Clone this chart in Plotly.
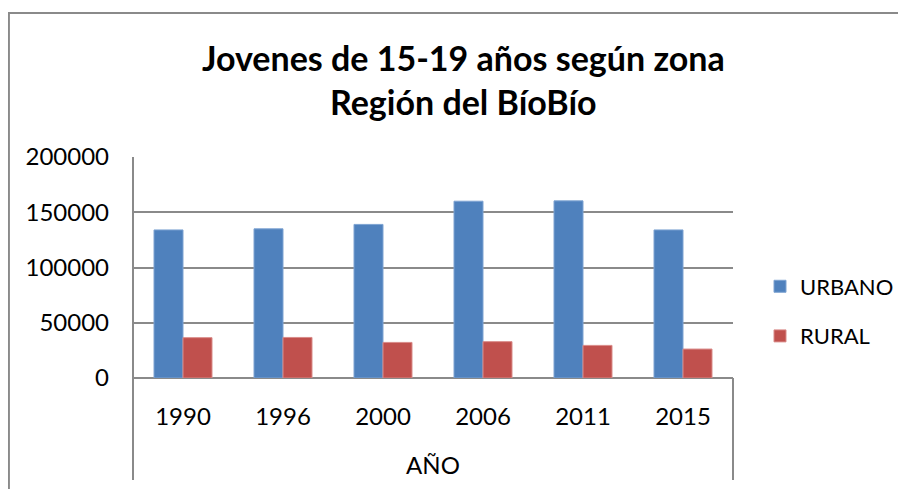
import plotly.graph_objects as go

years = ["1990", "1996", "2000", "2006", "2011", "2015"]
urbano = [134000, 135000, 139000, 160000, 160300, 134000]
rural = [36500, 36700, 32200, 32900, 29500, 26200]
title_text = "Jovenes de 15-19 años según zona<br>Región del BíoBío"
x_title = "AÑO"

FONT = "Lato"
GRID = "#8a8a8a"

fig = go.Figure()
fig.add_trace(go.Bar(x=years, y=urbano, name="URBANO", legendgroup="u",
                     marker=dict(color="#4F81BD", line=dict(color="#7ea3d2", width=1))))
fig.add_trace(go.Bar(x=years, y=rural, name="RURAL", legendgroup="r",
                     marker=dict(color="#C0504D", line=dict(color="#d98b89", width=1))))

shapes = [
    # chart border (cropped on right and bottom)
    dict(type="rect", xref="x domain", yref="y domain", x0=-0.2068, x1=2.0, y0=-2.0, y1=1.6516,
         line=dict(color=GRID, width=2), fillcolor="rgba(0,0,0,0)", layer="below"),
    # left axis line extended down
    dict(type="line", xref="x domain", yref="y domain", x0=0, x1=0, y0=1, y1=-0.4615,
         line=dict(color=GRID, width=2)),
    # right category boundary
    dict(type="line", xref="x domain", yref="y domain", x0=1, x1=1, y0=0, y1=-0.4615,
         line=dict(color=GRID, width=2)),
]

fig.update_layout(
    width=898, height=481,
    margin=dict(l=125, r=173, t=149, b=111, autoexpand=False),
    paper_bgcolor="white", plot_bgcolor="white",
    font=dict(family=FONT, color="black", size=24),
    title=dict(text="<b>" + title_text + "</b>", x=0.507, xanchor="center",
               y=0.869, yanchor="middle", yref="container",
               font=dict(family=FONT, size=34, color="black")),
    barmode="group", bargap=0.42, bargroupgap=0,
    showlegend=True,
    legend=dict(x=1.045, xanchor="left", y=0.301, yanchor="middle",
                font=dict(family=FONT, size=22, color="black"),
                tracegroupgap=18, bgcolor="rgba(0,0,0,0)"),
    shapes=shapes,
)
fig.update_yaxes(range=[0, 200000], dtick=50000, tickformat="d",
                 showgrid=True, gridcolor=GRID, gridwidth=1.5,
                 zeroline=True, zerolinecolor=GRID, zerolinewidth=2,
                 showline=False, ticks="", ticklabelstandoff=23,
                 tickfont=dict(family=FONT, size=24))
fig.update_xaxes(showgrid=False, showline=False, ticks="", ticklabelstandoff=22,
                 tickfont=dict(family=FONT, size=24),
                 title=dict(text=x_title, standoff=28, font=dict(family=FONT, size=24)))

fig.write_html("out.html")
